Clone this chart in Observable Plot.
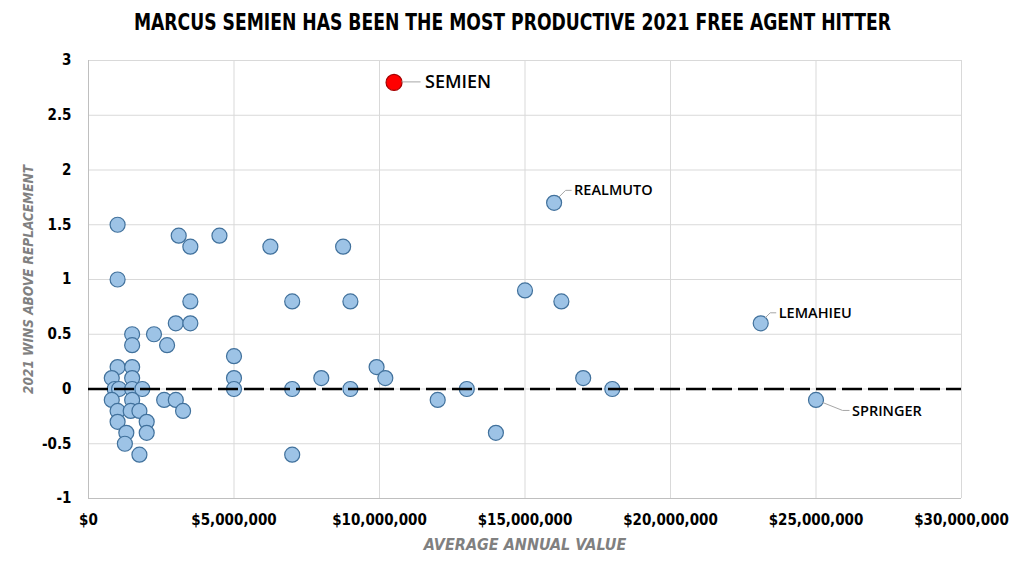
<!DOCTYPE html>
<html><head><meta charset="utf-8">
<script src="https://cdn.jsdelivr.net/npm/d3@7"></script>
<script src="https://cdn.jsdelivr.net/npm/@observablehq/plot@0.6"></script>
<style>
body{margin:0;background:#fff;}
#title{height:44px;display:flex;align-items:center;justify-content:center;overflow:hidden;}
#title span{font-family:"DejaVu Sans Condensed","DejaVu Sans",sans-serif;font-weight:bold;font-size:23px;display:inline-block;white-space:nowrap;transform-origin:center;color:#000;}
</style></head><body>
<div id="title"><span id="tt">MARCUS SEMIEN HAS BEEN THE MOST PRODUCTIVE 2021 FREE AGENT HITTER</span></div>
<div id="chart"></div>
<script>
// Average annual value (dollars) and 2021 WAR for each free-agent hitter
const aav = [
  1000000, 3100000, 3500000, 4500000, 1000000, 3500000, 3000000, 3500000, 1500000, 2250000,
  1500000, 2700000, 5000000, 1000000, 1500000, 800000, 1500000, 5000000, 900000, 1050000,
  1500000, 1850000, 5000000, 800000, 1500000, 2600000, 3000000, 1000000, 1450000, 1750000,
  3250000, 1000000, 2000000, 1300000, 2000000, 1250000, 1750000, 6250000, 8750000, 7000000,
  9000000, 7000000, 8000000, 9000000, 9900000, 10200000, 7000000, 15000000, 16250000, 12000000,
  13000000, 14000000, 17000000, 18000000, 16000000, 23100000, 25000000, 10500000
];
const war = [
  1.5, 1.4, 1.3, 1.4, 1.0, 0.8, 0.6, 0.6, 0.5, 0.5,
  0.4, 0.4, 0.3, 0.2, 0.2, 0.1, 0.1, 0.1, 0, 0,
  0, 0, 0, -0.1, -0.1, -0.1, -0.1, -0.2, -0.2, -0.2,
  -0.2, -0.3, -0.3, -0.4, -0.4, -0.5, -0.6, 1.3, 1.3, 0.8,
  0.8, 0, 0.1, 0, 0.2, 0.1, -0.6, 0.9, 0.8, -0.1,
  0, -0.4, 0.1, 0, 1.7, 0.6, -0.1, 2.8
];
const names = Array(54).fill("").concat(["REALMUTO", "LEMAHIEU", "SPRINGER", "SEMIEN"]);
const highlight = "SEMIEN";

const xTicks = [0, 5000000, 10000000, 15000000, 20000000, 25000000, 30000000];
const yTicks = [-1, -0.5, 0, 0.5, 1, 1.5, 2, 2.5, 3];
const xTitle = "AVERAGE ANNUAL VALUE";
const yTitle = "2021 WINS ABOVE REPLACEMENT";

const data = aav.map((v, i) => ({aav: v, war: war[i], name: names[i]}));
const others = data.filter(d => d.name !== highlight);
const star = data.filter(d => d.name === highlight);

// label styling (offsets in pixels)
const labelStyle = {
  SEMIEN:   {dx: 31, dy: 0,   size: 18, leader: [[8, 0], [27, 0]]},
  REALMUTO: {dx: 20, dy: -12, size: 14.5, leader: [[5, -5], [12, -12], [18, -12]]},
  LEMAHIEU: {dx: 18, dy: -10, size: 14.5, leader: [[5, -5], [10, -10], [16, -10]]},
  SPRINGER: {dx: 36, dy: 11,  size: 14.5, leader: [[7, 3], [27, 11], [34, 11]]}
};
const labeled = data.filter(d => d.name);

const tickFont = "'DejaVu Sans Condensed', 'DejaVu Sans', sans-serif";
const labelFont = "'Open Sans', sans-serif";

const leaders = (index, scales) => {
  const g = d3.create("svg:g");
  for (const d of labeled) {
    const px = scales.x(d.aav), py = scales.y(d.war);
    const pts = labelStyle[d.name].leader.map(([ox, oy]) => [px + ox, py + oy]);
    g.append("polyline")
      .attr("points", pts.map(p => p.join(",")).join(" "))
      .attr("fill", "none").attr("stroke", "#a6a6a6").attr("stroke-width", 1);
  }
  return g.node();
};

const chart = Plot.plot({
  width: 1024,
  height: 532,
  marginTop: 16,
  marginBottom: 78,
  marginLeft: 88,
  marginRight: 63,
  x: {domain: [0, 30000000]},
  y: {domain: [-1, 3]},
  style: {fontFamily: tickFont, color: "#000", background: "#fff"},
  marks: [
    Plot.gridX(xTicks, {stroke: "#d9d9d9", strokeOpacity: 1}),
    Plot.gridY(yTicks, {stroke: "#d9d9d9", strokeOpacity: 1}),
    Plot.ruleX([0], {stroke: "#bfbfbf"}),
    Plot.ruleY([-1], {stroke: "#bfbfbf"}),
    Plot.axisX(xTicks, {tickSize: 0, tickPadding: 16, fontSize: 15, fontWeight: "bold",
      fontFamily: tickFont, tickFormat: d => "$" + d3.format(",")(d), label: null}),
    Plot.axisY(yTicks, {tickSize: 0, tickPadding: 17, fontSize: 15, fontWeight: "bold",
      fontFamily: tickFont, tickFormat: d => String(d), label: null}),
    Plot.dot(others, {x: "aav", y: "war", r: 7.5, fill: "#9dc3e6", stroke: "#41719c", strokeWidth: 1.2, fillOpacity: 1}),
    Plot.dot(star, {x: "aav", y: "war", r: 8, fill: "#ff0000", stroke: "#a50000", strokeWidth: 1.2}),
    Plot.ruleY([0], {stroke: "#000", strokeWidth: 2.5, strokeDasharray: "20,6"}),
    leaders,
    ...labeled.map(d => Plot.text([d], {x: "aav", y: "war", text: "name",
      dx: labelStyle[d.name].dx, dy: labelStyle[d.name].dy, textAnchor: "start",
      fontSize: labelStyle[d.name].size, fontWeight: 600, fontFamily: labelFont, fill: "#000"})),
    Plot.text([xTitle], {frameAnchor: "bottom", dy: 51, fontSize: 16, fontStyle: "italic",
      fontWeight: "bold", fill: "#808080", fontFamily: tickFont}),
    Plot.text([yTitle], {frameAnchor: "left", textAnchor: "middle", dx: -60, rotate: -90, fontSize: 13.5, fontStyle: "italic",
      fontWeight: "bold", fill: "#808080", fontFamily: tickFont})
  ]
});
document.getElementById("chart").appendChild(chart);

const tt = document.getElementById("tt");
const w = tt.getBoundingClientRect().width;
tt.style.transform = `scaleX(${757 / w})`;
</script>
</body></html>
